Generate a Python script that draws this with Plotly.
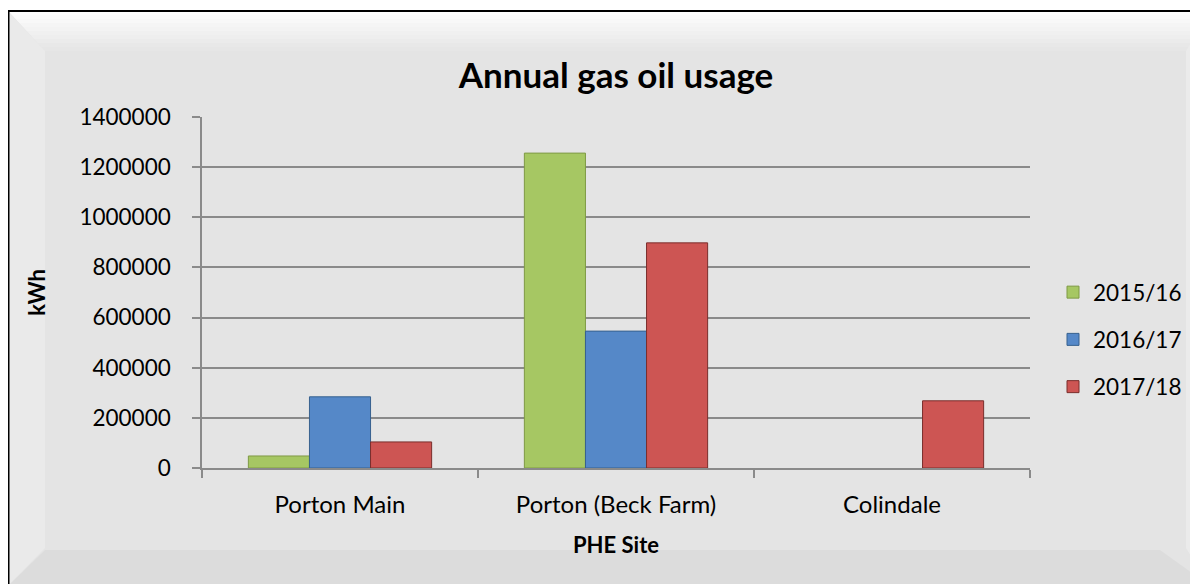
import plotly.graph_objects as go

# ---- data ----
sites = ["Porton Main", "Porton (Beck Farm)", "Colindale"]
years = ["2015/16", "2016/17", "2017/18"]
usage_2015_16 = [48000, 1256000, None]
usage_2016_17 = [284000, 546000, None]
usage_2017_18 = [104000, 898000, 268000]
y_ticks = [0, 200000, 400000, 600000, 800000, 1000000, 1200000, 1400000]

series = [usage_2015_16, usage_2016_17, usage_2017_18]
colors = ["#a6c763", "#5588c8", "#cd5553"]
edge = ["#7f9a45", "#37618f", "#7a2e2c"]

# the page body has an 8px margin, so the figure starts at page (8, 8)
OFF = 8
W, H = 1198 - OFF, 584 - OFF
# plot area in page pixels
PL, PR, PT, PB = 202, 1030, 117, 468
L, R, T, B = PL - OFF, PR - OFF, PT - OFF, PB - OFF
FONT = "Lato"

fig = go.Figure()
for i, (name, vals) in enumerate(zip(years, series)):
    fig.add_trace(go.Bar(
        x=sites, y=vals, name=name,
        marker=dict(color=colors[i], line=dict(color=edge[i], width=1)),
        legendgroup=name,
    ))

# page pixel -> paper coordinates
def px(x):
    return (x - PL) / (PR - PL)

def py(y):
    return (PB - y) / (PB - PT)

shapes = []
# chart area background
shapes.append(dict(type="rect", xref="paper", yref="paper",
                   x0=px(8), y0=py(600), x1=px(1210), y1=py(11),
                   fillcolor="#e4e4e4", line=dict(width=0), layer="below"))
# top bevel gradient
n = 10
for k in range(n):
    t0 = 11 + k * 40 / n
    t1 = 11 + (k + 1) * 40 / n
    c = int(255 - (255 - 229) * (k + 0.5) / n)
    col = f"rgb({c},{c},{c})"
    a0 = 8 + k * 37 / n
    a1 = 8 + (k + 1) * 37 / n
    shapes.append(dict(type="path", xref="paper", yref="paper",
                       path=f"M {px(a0)},{py(t0)} L {px(1210)},{py(t0)} L {px(1210)},{py(t1)} L {px(a1)},{py(t1)} Z",
                       fillcolor=col, line=dict(width=0), layer="below"))
# left band
shapes.append(dict(type="path", xref="paper", yref="paper",
                   path=f"M {px(8)},{py(11)} L {px(45)},{py(51)} L {px(45)},{py(548)} L {px(8)},{py(586)} Z",
                   fillcolor="#eaeaea", line=dict(width=0), layer="below"))
# bottom band
shapes.append(dict(type="path", xref="paper", yref="paper",
                   path=f"M {px(8)},{py(586)} L {px(45)},{py(550)} L {px(1160)},{py(550)} L {px(1210)},{py(586)} Z",
                   fillcolor="#dcdcdc", line=dict(width=0), layer="below"))
# right band
shapes.append(dict(type="path", xref="paper", yref="paper",
                   path=f"M {px(1210)},{py(11)} L {px(1186)},{py(51)} L {px(1186)},{py(548)} L {px(1210)},{py(586)} Z",
                   fillcolor="#ebebeb", line=dict(width=0), layer="below"))
# outer border
shapes.append(dict(type="rect", xref="paper", yref="paper",
                   x0=px(8.5), y0=py(600), x1=px(1210), y1=py(11),
                   line=dict(color="black", width=2), fillcolor="rgba(0,0,0,0)", layer="above"))

fig.update_layout(
    width=W, height=H,
    margin=dict(l=L, r=W - R, t=T, b=H - B, autoexpand=False),
    paper_bgcolor="white",
    plot_bgcolor="white",
    barmode="group",
    bargap=0.336,
    bargroupgap=0,
    font=dict(family=FONT, size=23, color="black"),
    title=dict(text="<b>Annual gas oil usage</b>", x=0.5, xref="paper",
               xanchor="center", y=1 - (76 - OFF) / H, yanchor="middle",
               font=dict(family=FONT, size=35, color="black")),
    showlegend=True,
    legend=dict(x=px(1053), y=py(271), xanchor="left", yanchor="top",
                bgcolor="rgba(0,0,0,0)", font=dict(size=22.5),
                tracegroupgap=15, itemwidth=30),
    shapes=shapes,
)
fig.update_yaxes(
    range=[0, 1400000], tickvals=y_ticks, ticktext=[str(v) for v in y_ticks],
    tickfont=dict(size=22.5),
    showgrid=True, gridcolor="#8a8a8a", gridwidth=1.5,
    showline=True, linecolor="#8a8a8a", linewidth=1.5,
    ticks="outside", ticklen=8, tickcolor="#8a8a8a", tickwidth=1.5,
    ticklabelstandoff=17,
    title=dict(text="<b>kWh</b>", font=dict(family=FONT, size=22), standoff=28),
    zeroline=False,
)
fig.update_xaxes(
    tickfont=dict(size=24),
    showline=True, linecolor="#8a8a8a", linewidth=1.5,
    ticks="outside", ticklen=8, tickcolor="#8a8a8a", tickwidth=1.5,
    tickson="boundaries", ticklabelstandoff=14,
    title=dict(text="<b>PHE Site</b>", font=dict(family=FONT, size=22), standoff=21),
)

fig.write_html("out.html")
